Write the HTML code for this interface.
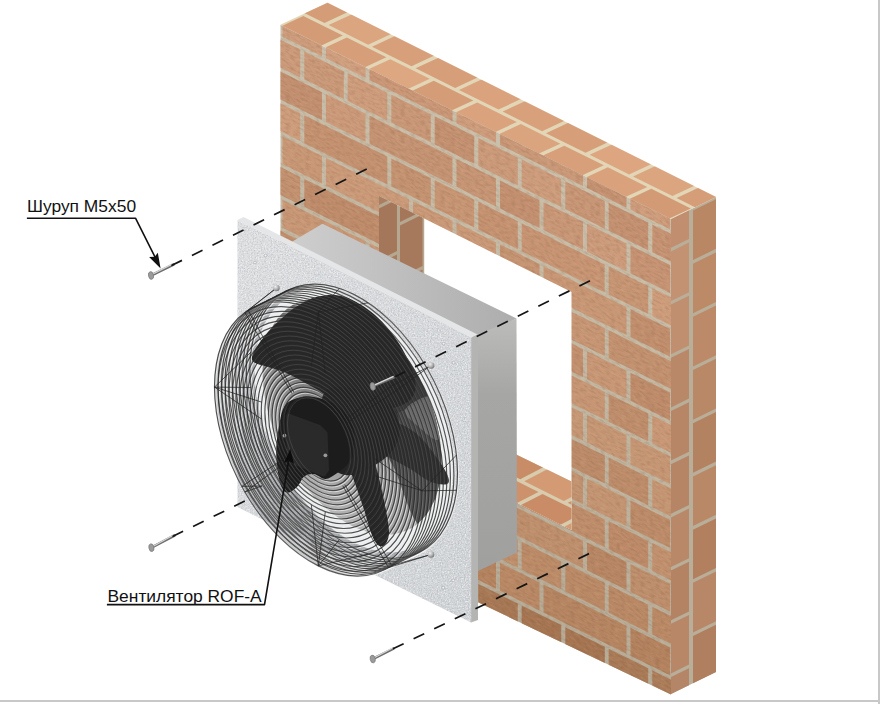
<!DOCTYPE html><html><head><meta charset="utf-8"><title>Монтаж вентилятора ROF-A</title>
<style>html,body{margin:0;padding:0;background:#fff}svg{display:block}text{font-family:"Liberation Sans",Arial,sans-serif;fill:#111}</style></head><body>
<svg width="882" height="704" viewBox="0 0 882 704">
<defs>
<clipPath id="cf"><polygon points="280.5,25.0 671.0,219.0 671.0,694.5 280.5,508.0"/></clipPath>
<clipPath id="ct"><polygon points="280.3,24.7 327.5,2.7 716.0,197.0 671.0,219.0"/></clipPath>
<clipPath id="ce"><polygon points="671.0,219.0 716.0,197.0 716.0,672.0 671.0,694.0"/></clipPath>
<clipPath id="cr"><polygon points="379.0,196.0 424.2,218.5 424.2,409.5 379.0,434.0"/></clipPath>
<clipPath id="cs"><polygon points="379.0,434.0 424.2,409.5 571.5,481.5 571.5,530.0"/></clipPath>
<linearGradient id="gtop" x1="0" y1="0" x2="1" y2="0"><stop offset="0" stop-color="#cfcfcf"/><stop offset="1" stop-color="#adadad"/></linearGradient>
<linearGradient id="gside" x1="0" y1="0" x2="0" y2="1"><stop offset="0" stop-color="#bcbcbb"/><stop offset="0.3" stop-color="#a6a6a4"/><stop offset="1" stop-color="#a0a09e"/></linearGradient>
<linearGradient id="gplate" x1="0" y1="0" x2="1" y2="1"><stop offset="0" stop-color="#dcdee0"/><stop offset="1" stop-color="#cfd2d5"/></linearGradient>
<linearGradient id="ginner" gradientUnits="userSpaceOnUse" x1="440" y1="360" x2="300" y2="530"><stop offset="0" stop-color="#484848"/><stop offset="0.45" stop-color="#7c7c7c"/><stop offset="0.75" stop-color="#a8a8a8"/><stop offset="1" stop-color="#cacaca"/></linearGradient>
<linearGradient id="gmortar" x1="0" y1="0" x2="0" y2="1"><stop offset="0" stop-color="#cbc0ab"/><stop offset="1" stop-color="#b6ab97"/></linearGradient>
<filter id="spk" x="0" y="0" width="100%" height="100%" color-interpolation-filters="sRGB"><feTurbulence type="fractalNoise" baseFrequency="0.75" numOctaves="2" seed="4" result="t"/><feColorMatrix in="t" type="matrix" values="0 0 0 0 1  0 0 0 0 1  0 0 0 0 1  2.2 0 0 0 -0.95"/></filter>
<filter id="spd" x="0" y="0" width="100%" height="100%" color-interpolation-filters="sRGB"><feTurbulence type="fractalNoise" baseFrequency="0.7" numOctaves="2" seed="9" result="t"/><feColorMatrix in="t" type="matrix" values="0 0 0 0 0.45  0 0 0 0 0.47  0 0 0 0 0.5  2.0 0 0 0 -0.95"/></filter>
<filter id="bn" x="0" y="0" width="100%" height="100%" color-interpolation-filters="sRGB"><feTurbulence type="fractalNoise" baseFrequency="0.2 0.45" numOctaves="2" seed="11" result="t"/><feColorMatrix in="t" type="matrix" values="0 0 0 0 0.42  0 0 0 0 0.25  0 0 0 0 0.15  2.4 0 0 0 -1.05"/></filter>
<filter id="bl" x="0" y="0" width="100%" height="100%" color-interpolation-filters="sRGB"><feTurbulence type="fractalNoise" baseFrequency="0.15 0.4" numOctaves="2" seed="23" result="t"/><feColorMatrix in="t" type="matrix" values="0 0 0 0 1  0 0 0 0 0.85  0 0 0 0 0.7  1.8 0 0 0 -0.85"/></filter>
<radialGradient id="gbolt" cx="0.35" cy="0.3" r="0.8"><stop offset="0" stop-color="#f2f2f2"/><stop offset="0.6" stop-color="#a8a8a8"/><stop offset="1" stop-color="#666"/></radialGradient>
<clipPath id="cp"><polygon points="237.5,220 471.25,337.5 471.25,622.5 237.5,507"/></clipPath>
</defs>
<rect width="882" height="704" fill="#fff"/>
<rect x="0" y="700" width="880" height="2" fill="#c8c8c8"/>
<rect x="878" y="0" width="2" height="704" fill="#c8c8c8"/>
<g clip-path="url(#ce)"><g transform="matrix(1,-0.489,0,1,671,219)">
<rect x="-2" y="-30" width="50" height="540" fill="#b9ae99"/>
<rect x="-1" y="-20.8" width="19" height="49.6" fill="#c18f6f"/>
<rect x="22" y="-51.0" width="25" height="49.6" fill="#bc8966"/>
<rect x="-1" y="32.4" width="19" height="49.6" fill="#c29272"/>
<rect x="22" y="2.2" width="25" height="49.6" fill="#ba8764"/>
<rect x="-1" y="85.6" width="19" height="49.6" fill="#c08f6f"/>
<rect x="22" y="55.4" width="25" height="49.6" fill="#bc8a67"/>
<rect x="-1" y="138.8" width="19" height="49.6" fill="#b98868"/>
<rect x="22" y="108.6" width="25" height="49.6" fill="#bc8a68"/>
<rect x="-1" y="192.0" width="19" height="49.6" fill="#b78667"/>
<rect x="22" y="161.8" width="25" height="49.6" fill="#b98866"/>
<rect x="-1" y="245.2" width="19" height="49.6" fill="#b68565"/>
<rect x="22" y="215.0" width="25" height="49.6" fill="#b38261"/>
<rect x="-1" y="298.4" width="19" height="49.6" fill="#b88869"/>
<rect x="22" y="268.2" width="25" height="49.6" fill="#b98967"/>
<rect x="-1" y="351.6" width="19" height="49.6" fill="#b38364"/>
<rect x="22" y="321.4" width="25" height="49.6" fill="#b2805f"/>
<rect x="-1" y="404.8" width="19" height="49.6" fill="#b78768"/>
<rect x="22" y="374.6" width="25" height="49.6" fill="#b78767"/>
<rect x="-1" y="458.0" width="19" height="49.6" fill="#b48566"/>
<rect x="22" y="427.8" width="25" height="49.6" fill="#af7f5f"/>
<rect x="-1" y="511.2" width="19" height="49.6" fill="#b88a6b"/>
<rect x="22" y="481.0" width="25" height="49.6" fill="#ab7a5a"/>
<rect x="-1" y="564.4" width="19" height="49.6" fill="#b7896a"/>
<rect x="22" y="534.2" width="25" height="49.6" fill="#ad7d5d"/>
</g></g>
<g clip-path="url(#ct)"><g transform="matrix(1,0.497,1,-0.466,280.3,24.7)">
<rect x="-5" y="-5" width="400" height="56" fill="#e3d6b6"/>
<rect x="-41.5" y="-2.0" width="39.5" height="23.0" fill="#d49c77"/>
<rect x="2.0" y="-2.0" width="39.5" height="23.0" fill="#d39b76"/>
<rect x="45.5" y="-2.0" width="39.5" height="23.0" fill="#d69e79"/>
<rect x="89.0" y="-2.0" width="39.5" height="23.0" fill="#dda782"/>
<rect x="132.5" y="-2.0" width="39.5" height="23.0" fill="#d49c77"/>
<rect x="176.0" y="-2.0" width="39.5" height="23.0" fill="#daa37e"/>
<rect x="219.5" y="-2.0" width="39.5" height="23.0" fill="#daa47f"/>
<rect x="263.0" y="-2.0" width="39.5" height="23.0" fill="#d79f7a"/>
<rect x="306.5" y="-2.0" width="39.5" height="23.0" fill="#d9a27d"/>
<rect x="350.0" y="-2.0" width="39.5" height="23.0" fill="#d29a75"/>
<rect x="393.5" y="-2.0" width="39.5" height="23.0" fill="#d29a75"/>
<rect x="-19.8" y="24.5" width="39.5" height="23.5" fill="#d49d78"/>
<rect x="23.8" y="24.5" width="39.5" height="23.5" fill="#dba580"/>
<rect x="67.2" y="24.5" width="39.5" height="23.5" fill="#d7a07b"/>
<rect x="110.8" y="24.5" width="39.5" height="23.5" fill="#d69e79"/>
<rect x="154.2" y="24.5" width="39.5" height="23.5" fill="#daa37e"/>
<rect x="197.8" y="24.5" width="39.5" height="23.5" fill="#d8a17c"/>
<rect x="241.2" y="24.5" width="39.5" height="23.5" fill="#d69e79"/>
<rect x="284.8" y="24.5" width="39.5" height="23.5" fill="#dda681"/>
<rect x="328.2" y="24.5" width="39.5" height="23.5" fill="#dba580"/>
<rect x="371.8" y="24.5" width="39.5" height="23.5" fill="#d59d78"/>
</g></g>
<g clip-path="url(#cf)"><g transform="matrix(1,0.497,0,1,280.5,25)">
<rect x="-2" y="-2" width="396" height="490" fill="url(#gmortar)"/>
<rect x="-41.5" y="-2.0" width="39.5" height="12.7" fill="#cb9a7a"/>
<rect x="2.0" y="-2.0" width="39.5" height="12.7" fill="#cd9d7d"/>
<rect x="45.5" y="-2.0" width="39.5" height="12.7" fill="#d0a080"/>
<rect x="89.0" y="-2.0" width="83.0" height="12.7" fill="#ca9878"/>
<rect x="176.0" y="-2.0" width="39.5" height="12.7" fill="#ce9d7d"/>
<rect x="219.5" y="-2.0" width="83.0" height="12.7" fill="#ca9979"/>
<rect x="306.5" y="-2.0" width="39.5" height="12.7" fill="#c59373"/>
<rect x="350.0" y="-2.0" width="39.5" height="12.7" fill="#ce9d7d"/>
<rect x="393.5" y="-2.0" width="39.5" height="12.7" fill="#cf9f7f"/>
<rect x="-19.8" y="14.7" width="39.5" height="27.8" fill="#cc9b7b"/>
<rect x="23.8" y="14.7" width="39.5" height="27.8" fill="#ca9a7a"/>
<rect x="67.2" y="14.7" width="39.5" height="27.8" fill="#ce9d7d"/>
<rect x="110.8" y="14.7" width="39.5" height="27.8" fill="#c99878"/>
<rect x="154.2" y="14.7" width="39.5" height="27.8" fill="#c49272"/>
<rect x="197.8" y="14.7" width="39.5" height="27.8" fill="#cb9b7b"/>
<rect x="241.2" y="14.7" width="39.5" height="27.8" fill="#cd9d7d"/>
<rect x="284.8" y="14.7" width="39.5" height="27.8" fill="#c89777"/>
<rect x="328.2" y="14.7" width="39.5" height="27.8" fill="#c49272"/>
<rect x="371.8" y="14.7" width="39.5" height="27.8" fill="#c69474"/>
<rect x="-41.5" y="46.5" width="83.0" height="27.9" fill="#c39171"/>
<rect x="45.5" y="46.5" width="39.5" height="27.9" fill="#cc9b7b"/>
<rect x="89.0" y="46.5" width="83.0" height="27.9" fill="#c59474"/>
<rect x="176.0" y="46.5" width="39.5" height="27.9" fill="#c79676"/>
<rect x="219.5" y="46.5" width="39.5" height="27.9" fill="#c39171"/>
<rect x="263.0" y="46.5" width="39.5" height="27.9" fill="#c99878"/>
<rect x="306.5" y="46.5" width="39.5" height="27.9" fill="#cc9c7c"/>
<rect x="350.0" y="46.5" width="39.5" height="27.9" fill="#c69474"/>
<rect x="393.5" y="46.5" width="39.5" height="27.9" fill="#c79575"/>
<rect x="-19.8" y="78.4" width="39.5" height="27.9" fill="#cd9d7c"/>
<rect x="23.8" y="78.4" width="83.0" height="27.9" fill="#c49271"/>
<rect x="110.8" y="78.4" width="39.5" height="27.9" fill="#c49372"/>
<rect x="154.2" y="78.4" width="39.5" height="27.9" fill="#c79675"/>
<rect x="197.8" y="78.4" width="39.5" height="27.9" fill="#c59372"/>
<rect x="241.2" y="78.4" width="83.0" height="27.9" fill="#c79574"/>
<rect x="328.2" y="78.4" width="39.5" height="27.9" fill="#c69574"/>
<rect x="371.8" y="78.4" width="39.5" height="27.9" fill="#cd9d7c"/>
<rect x="-41.5" y="110.3" width="39.5" height="27.8" fill="#c79675"/>
<rect x="2.0" y="110.3" width="39.5" height="27.8" fill="#c99877"/>
<rect x="45.5" y="110.3" width="83.0" height="27.8" fill="#cb9b7a"/>
<rect x="132.5" y="110.3" width="39.5" height="27.8" fill="#ca9a79"/>
<rect x="176.0" y="110.3" width="39.5" height="27.8" fill="#ca9a79"/>
<rect x="219.5" y="110.3" width="39.5" height="27.8" fill="#c59473"/>
<rect x="263.0" y="110.3" width="83.0" height="27.8" fill="#c89776"/>
<rect x="350.0" y="110.3" width="39.5" height="27.8" fill="#c18f6e"/>
<rect x="393.5" y="110.3" width="83.0" height="27.8" fill="#c39170"/>
<rect x="-19.8" y="142.1" width="39.5" height="27.8" fill="#c39271"/>
<rect x="23.8" y="142.1" width="83.0" height="27.8" fill="#bf8d6c"/>
<rect x="110.8" y="142.1" width="39.5" height="27.8" fill="#c08f6e"/>
<rect x="154.2" y="142.1" width="83.0" height="27.8" fill="#c39372"/>
<rect x="241.2" y="142.1" width="39.5" height="27.8" fill="#bf8e6d"/>
<rect x="284.8" y="142.1" width="39.5" height="27.8" fill="#c69675"/>
<rect x="328.2" y="142.1" width="83.0" height="27.8" fill="#c29170"/>
<rect x="-41.5" y="173.9" width="39.5" height="27.9" fill="#c29170"/>
<rect x="2.0" y="173.9" width="83.0" height="27.9" fill="#c89877"/>
<rect x="89.0" y="173.9" width="39.5" height="27.9" fill="#c99a79"/>
<rect x="132.5" y="173.9" width="39.5" height="27.9" fill="#c39271"/>
<rect x="176.0" y="173.9" width="83.0" height="27.9" fill="#bf8d6c"/>
<rect x="263.0" y="173.9" width="39.5" height="27.9" fill="#c2906f"/>
<rect x="306.5" y="173.9" width="39.5" height="27.9" fill="#c79776"/>
<rect x="350.0" y="173.9" width="39.5" height="27.9" fill="#be8c6b"/>
<rect x="393.5" y="173.9" width="39.5" height="27.9" fill="#c49372"/>
<rect x="-19.8" y="205.8" width="83.0" height="27.8" fill="#c39271"/>
<rect x="67.2" y="205.8" width="39.5" height="27.8" fill="#bd8b6a"/>
<rect x="110.8" y="205.8" width="39.5" height="27.8" fill="#c89877"/>
<rect x="154.2" y="205.8" width="39.5" height="27.8" fill="#c59473"/>
<rect x="197.8" y="205.8" width="39.5" height="27.8" fill="#c1906f"/>
<rect x="241.2" y="205.8" width="39.5" height="27.8" fill="#c69574"/>
<rect x="284.8" y="205.8" width="39.5" height="27.8" fill="#c69675"/>
<rect x="328.2" y="205.8" width="39.5" height="27.8" fill="#bf8e6d"/>
<rect x="371.8" y="205.8" width="39.5" height="27.8" fill="#c89877"/>
<rect x="-41.5" y="237.7" width="39.5" height="27.8" fill="#c49573"/>
<rect x="2.0" y="237.7" width="39.5" height="27.8" fill="#c39472"/>
<rect x="45.5" y="237.7" width="39.5" height="27.8" fill="#c1916f"/>
<rect x="89.0" y="237.7" width="39.5" height="27.8" fill="#bb8a68"/>
<rect x="132.5" y="237.7" width="83.0" height="27.8" fill="#be8d6b"/>
<rect x="219.5" y="237.7" width="39.5" height="27.8" fill="#be8d6b"/>
<rect x="263.0" y="237.7" width="39.5" height="27.8" fill="#c69775"/>
<rect x="306.5" y="237.7" width="39.5" height="27.8" fill="#c69775"/>
<rect x="350.0" y="237.7" width="39.5" height="27.8" fill="#c69775"/>
<rect x="393.5" y="237.7" width="39.5" height="27.8" fill="#bd8c6a"/>
<rect x="-19.8" y="269.5" width="39.5" height="27.9" fill="#bc8b69"/>
<rect x="23.8" y="269.5" width="39.5" height="27.9" fill="#c1916f"/>
<rect x="67.2" y="269.5" width="39.5" height="27.9" fill="#c49472"/>
<rect x="110.8" y="269.5" width="39.5" height="27.9" fill="#c19270"/>
<rect x="154.2" y="269.5" width="39.5" height="27.9" fill="#bb8a68"/>
<rect x="197.8" y="269.5" width="39.5" height="27.9" fill="#c49573"/>
<rect x="241.2" y="269.5" width="39.5" height="27.9" fill="#c39371"/>
<rect x="284.8" y="269.5" width="39.5" height="27.9" fill="#bc8b69"/>
<rect x="328.2" y="269.5" width="39.5" height="27.9" fill="#bd8d6b"/>
<rect x="371.8" y="269.5" width="39.5" height="27.9" fill="#c59674"/>
<rect x="-41.5" y="301.4" width="39.5" height="27.8" fill="#bd8d6b"/>
<rect x="2.0" y="301.4" width="39.5" height="27.8" fill="#c19270"/>
<rect x="45.5" y="301.4" width="39.5" height="27.8" fill="#ba8967"/>
<rect x="89.0" y="301.4" width="83.0" height="27.8" fill="#c39472"/>
<rect x="176.0" y="301.4" width="39.5" height="27.8" fill="#c29371"/>
<rect x="219.5" y="301.4" width="83.0" height="27.8" fill="#c29371"/>
<rect x="306.5" y="301.4" width="39.5" height="27.8" fill="#c49573"/>
<rect x="350.0" y="301.4" width="39.5" height="27.8" fill="#bd8c6a"/>
<rect x="393.5" y="301.4" width="39.5" height="27.8" fill="#ba8967"/>
<rect x="-19.8" y="333.2" width="83.0" height="27.9" fill="#c39371"/>
<rect x="67.2" y="333.2" width="39.5" height="27.9" fill="#bf8f6d"/>
<rect x="110.8" y="333.2" width="39.5" height="27.9" fill="#c39371"/>
<rect x="154.2" y="333.2" width="39.5" height="27.9" fill="#c29270"/>
<rect x="197.8" y="333.2" width="39.5" height="27.9" fill="#ba8866"/>
<rect x="241.2" y="333.2" width="39.5" height="27.9" fill="#bb8a68"/>
<rect x="284.8" y="333.2" width="39.5" height="27.9" fill="#bf8e6c"/>
<rect x="328.2" y="333.2" width="39.5" height="27.9" fill="#bd8b69"/>
<rect x="371.8" y="333.2" width="83.0" height="27.9" fill="#c29270"/>
<rect x="-41.5" y="365.1" width="39.5" height="27.9" fill="#bb8b69"/>
<rect x="2.0" y="365.1" width="39.5" height="27.9" fill="#c0916f"/>
<rect x="45.5" y="365.1" width="39.5" height="27.9" fill="#c19270"/>
<rect x="89.0" y="365.1" width="39.5" height="27.9" fill="#bc8c6a"/>
<rect x="132.5" y="365.1" width="39.5" height="27.9" fill="#b68563"/>
<rect x="176.0" y="365.1" width="39.5" height="27.9" fill="#b88765"/>
<rect x="219.5" y="365.1" width="83.0" height="27.9" fill="#bf906e"/>
<rect x="306.5" y="365.1" width="39.5" height="27.9" fill="#b88765"/>
<rect x="350.0" y="365.1" width="39.5" height="27.9" fill="#be8f6d"/>
<rect x="393.5" y="365.1" width="39.5" height="27.9" fill="#b98967"/>
<rect x="-19.8" y="396.9" width="39.5" height="27.8" fill="#bb8b68"/>
<rect x="23.8" y="396.9" width="39.5" height="27.8" fill="#b68562"/>
<rect x="67.2" y="396.9" width="39.5" height="27.8" fill="#b78764"/>
<rect x="110.8" y="396.9" width="39.5" height="27.8" fill="#be8e6b"/>
<rect x="154.2" y="396.9" width="39.5" height="27.8" fill="#bb8b68"/>
<rect x="197.8" y="396.9" width="39.5" height="27.8" fill="#bf906d"/>
<rect x="241.2" y="396.9" width="39.5" height="27.8" fill="#bc8c69"/>
<rect x="284.8" y="396.9" width="39.5" height="27.8" fill="#bb8b68"/>
<rect x="328.2" y="396.9" width="39.5" height="27.8" fill="#ba8a67"/>
<rect x="371.8" y="396.9" width="39.5" height="27.8" fill="#ba8a67"/>
<rect x="-41.5" y="428.8" width="39.5" height="27.9" fill="#bc8c69"/>
<rect x="2.0" y="428.8" width="39.5" height="27.9" fill="#bf906d"/>
<rect x="45.5" y="428.8" width="39.5" height="27.9" fill="#ba8a67"/>
<rect x="89.0" y="428.8" width="39.5" height="27.9" fill="#be8e6b"/>
<rect x="132.5" y="428.8" width="83.0" height="27.9" fill="#b58461"/>
<rect x="219.5" y="428.8" width="39.5" height="27.9" fill="#b98966"/>
<rect x="263.0" y="428.8" width="83.0" height="27.9" fill="#b68663"/>
<rect x="350.0" y="428.8" width="39.5" height="27.9" fill="#b48360"/>
<rect x="393.5" y="428.8" width="39.5" height="27.9" fill="#bd8e6b"/>
<rect x="-19.8" y="460.6" width="39.5" height="27.8" fill="#ab7d5a"/>
<rect x="23.8" y="460.6" width="39.5" height="27.8" fill="#ad7e5b"/>
<rect x="67.2" y="460.6" width="39.5" height="27.8" fill="#ad7f5c"/>
<rect x="110.8" y="460.6" width="39.5" height="27.8" fill="#ad7f5c"/>
<rect x="154.2" y="460.6" width="39.5" height="27.8" fill="#a97a57"/>
<rect x="197.8" y="460.6" width="39.5" height="27.8" fill="#a77855"/>
<rect x="241.2" y="460.6" width="39.5" height="27.8" fill="#a67653"/>
<rect x="284.8" y="460.6" width="39.5" height="27.8" fill="#a67653"/>
<rect x="328.2" y="460.6" width="39.5" height="27.8" fill="#aa7b58"/>
<rect x="371.8" y="460.6" width="83.0" height="27.8" fill="#ac7d5a"/>
<rect x="-2" y="-2" width="396" height="490" filter="url(#bn)" opacity="0.18"/>
<rect x="-2" y="-2" width="396" height="490" filter="url(#bl)" opacity="0.16"/>
</g></g>
<polygon points="379.0,196.0 571.5,292.0 571.5,530.0 379.0,434.0" fill="#fff"/>
<g clip-path="url(#cr)"><g transform="matrix(1,-0.495,0,1,379,196)">
<rect x="-2" y="-10" width="50" height="300" fill="#b5a790"/>
<rect x="-1" y="-42.5" width="19" height="51.5" fill="#a97e61"/>
<rect x="21" y="-70.0" width="22.5" height="51.5" fill="#a5785b"/>
<rect x="-1" y="12.5" width="19" height="51.5" fill="#a4775a"/>
<rect x="21" y="-15.0" width="22.5" height="51.5" fill="#a5775a"/>
<rect x="-1" y="67.5" width="19" height="51.5" fill="#a87c5f"/>
<rect x="21" y="40.0" width="22.5" height="51.5" fill="#a7795c"/>
<rect x="-1" y="122.5" width="19" height="51.5" fill="#a37659"/>
<rect x="21" y="95.0" width="22.5" height="51.5" fill="#a87b5e"/>
<rect x="-1" y="177.5" width="19" height="51.5" fill="#a97d60"/>
<rect x="21" y="150.0" width="22.5" height="51.5" fill="#ab7f62"/>
<rect x="-1" y="232.5" width="19" height="51.5" fill="#a4775a"/>
<rect x="21" y="205.0" width="22.5" height="51.5" fill="#a6785b"/>
<rect x="-1" y="287.5" width="19" height="51.5" fill="#a97e61"/>
<rect x="21" y="260.0" width="22.5" height="51.5" fill="#a97c5f"/>
</g></g>
<g clip-path="url(#cs)"><g transform="matrix(1,0.497,1,-0.52,379,434)">
<rect x="-60" y="-5" width="300" height="60" fill="#d9ccae"/>
<rect x="-75.0" y="-2.0" width="39.5" height="23.0" fill="#d19771"/>
<rect x="-31.5" y="-2.0" width="39.5" height="23.0" fill="#c98d67"/>
<rect x="12.0" y="-2.0" width="39.5" height="23.0" fill="#c88c66"/>
<rect x="55.5" y="-2.0" width="39.5" height="23.0" fill="#d19771"/>
<rect x="99.0" y="-2.0" width="39.5" height="23.0" fill="#cd926c"/>
<rect x="142.5" y="-2.0" width="39.5" height="23.0" fill="#c98c66"/>
<rect x="186.0" y="-2.0" width="39.5" height="23.0" fill="#d59b75"/>
<rect x="229.5" y="-2.0" width="39.5" height="23.0" fill="#d09670"/>
<rect x="-53.2" y="24.5" width="39.5" height="25.5" fill="#d39973"/>
<rect x="-9.8" y="24.5" width="39.5" height="25.5" fill="#c98d67"/>
<rect x="33.8" y="24.5" width="39.5" height="25.5" fill="#d39973"/>
<rect x="77.2" y="24.5" width="39.5" height="25.5" fill="#c88c66"/>
<rect x="120.8" y="24.5" width="39.5" height="25.5" fill="#d49a74"/>
<rect x="164.2" y="24.5" width="39.5" height="25.5" fill="#ce936d"/>
<rect x="207.8" y="24.5" width="39.5" height="25.5" fill="#cc916b"/>
<rect x="251.2" y="24.5" width="39.5" height="25.5" fill="#cf946e"/>
</g></g>
<polygon points="284.0,246.5 322.5,223.8 516.5,318.5 476.0,339.0" fill="url(#gtop)"/>
<polygon points="476.0,335.0 516.5,318.5 517.0,552.5 476.0,572.0" fill="url(#gside)"/>
<polygon points="471.0,337.5 478.0,334.5 478.0,620.0 471.0,622.5" fill="#b4b4b2"/>
<polygon points="237.5,220.0 243.5,217.0 477.5,334.5 471.2,337.5" fill="#e4e6e7"/>
<polygon points="237.5,220.0 471.2,337.5 471.2,622.5 237.5,507.0" fill="url(#gplate)"/>
<g clip-path="url(#cp)"><rect x="237" y="219" width="236" height="405" filter="url(#spk)" opacity="0.7"/><rect x="237" y="219" width="236" height="405" filter="url(#spd)" opacity="0.35"/></g>
<circle cx="255.0" cy="262.5" r="1.4" fill="#f3f3f3" stroke="#a9abad" stroke-width="0.7"/>
<circle cx="265.5" cy="255.5" r="1.4" fill="#f3f3f3" stroke="#a9abad" stroke-width="0.7"/>
<circle cx="443.6" cy="343.6" r="1.4" fill="#f3f3f3" stroke="#a9abad" stroke-width="0.7"/>
<circle cx="453.6" cy="362.7" r="1.4" fill="#f3f3f3" stroke="#a9abad" stroke-width="0.7"/>
<circle cx="443.2" cy="587.8" r="1.4" fill="#f3f3f3" stroke="#a9abad" stroke-width="0.7"/>
<circle cx="453.3" cy="580.4" r="1.4" fill="#f3f3f3" stroke="#a9abad" stroke-width="0.7"/>
<clipPath id="chole"><polygon points="441.5,461.2 441.3,468.3 440.7,475.1 439.8,481.7 438.4,488.0 436.7,494.0 434.7,499.7 432.2,505.0 429.5,509.9 426.4,514.5 423.0,518.6 419.3,522.3 415.3,525.5 411.0,528.2 406.5,530.5 401.7,532.3 396.7,533.6 391.6,534.4 386.2,534.7 380.8,534.5 375.2,533.7 369.5,532.5 363.7,530.8 357.9,528.6 352.0,525.9 346.1,522.7 340.3,519.1 334.5,515.1 328.8,510.6 323.2,505.7 317.8,500.4 312.4,494.8 307.3,488.9 302.3,482.6 297.5,476.0 293.0,469.2 288.7,462.2 284.7,455.0 281.0,447.6 277.6,440.1 274.5,432.4 271.8,424.8 269.3,417.0 267.3,409.3 265.6,401.6 264.2,394.0 263.3,386.4 262.7,379.0 262.5,371.8 262.7,364.7 263.3,357.9 264.2,351.3 265.6,345.0 267.3,339.0 269.3,333.3 271.8,328.0 274.5,323.1 277.6,318.5 281.0,314.4 284.7,310.7 288.7,307.5 293.0,304.8 297.5,302.5 302.3,300.7 307.3,299.4 312.4,298.6 317.8,298.3 323.2,298.5 328.8,299.3 334.5,300.5 340.3,302.2 346.1,304.4 352.0,307.1 357.9,310.3 363.7,313.9 369.5,317.9 375.2,322.4 380.8,327.3 386.2,332.6 391.6,338.2 396.7,344.1 401.7,350.4 406.5,357.0 411.0,363.8 415.3,370.8 419.3,378.0 423.0,385.4 426.4,392.9 429.5,400.6 432.2,408.2 434.7,416.0 436.7,423.7 438.4,431.4 439.8,439.0 440.7,446.6 441.3,454.0"/></clipPath>
<polygon points="422.1,490.8 421.9,499.0 421.2,507.0 420.1,514.6 418.6,521.9 416.6,528.9 414.2,535.5 411.4,541.6 408.2,547.3 404.6,552.6 400.7,557.4 396.3,561.6 391.7,565.4 386.7,568.6 381.5,571.2 376.0,573.3 370.2,574.8 364.2,575.7 358.0,576.1 351.7,575.8 345.2,575.0 338.6,573.5 331.8,571.5 325.1,569.0 318.3,565.9 311.5,562.2 304.8,558.0 298.0,553.3 291.4,548.1 284.9,542.4 278.6,536.3 272.4,529.8 266.4,522.9 260.6,515.6 255.1,508.0 249.9,500.1 244.9,492.0 240.3,483.6 235.9,475.0 232.0,466.3 228.4,457.5 225.2,448.5 222.4,439.6 220.0,430.6 218.0,421.7 216.5,412.8 215.4,404.1 214.7,395.5 214.5,387.1 214.7,378.9 215.4,370.9 216.5,363.3 218.0,356.0 220.0,349.0 222.4,342.4 225.2,336.3 228.4,330.6 232.0,325.3 235.9,320.5 240.3,316.3 244.9,312.5 249.9,309.3 255.1,306.7 260.6,304.6 266.4,303.1 272.4,302.2 278.6,301.8 284.9,302.1 291.4,302.9 298.0,304.4 304.8,306.4 311.5,308.9 318.3,312.0 325.1,315.7 331.8,319.9 338.6,324.6 345.2,329.8 351.7,335.5 358.0,341.6 364.2,348.1 370.2,355.0 376.0,362.3 381.5,369.9 386.7,377.8 391.7,385.9 396.3,394.3 400.7,402.9 404.6,411.6 408.2,420.4 411.4,429.4 414.2,438.3 416.6,447.3 418.6,456.2 420.1,465.1 421.2,473.8 421.9,482.4" fill="#6f7276" fill-opacity="0.36"/>
<polygon points="439.8,482.0 439.6,490.2 438.9,498.1 437.8,505.8 436.3,513.1 434.3,520.0 431.9,526.6 429.1,532.8 425.9,538.5 422.3,543.8 418.4,548.5 414.0,552.8 409.4,556.5 404.4,559.7 399.2,562.4 393.7,564.4 387.9,565.9 381.9,566.9 375.7,567.2 369.4,566.9 362.9,566.1 356.3,564.7 349.5,562.7 342.8,560.1 336.0,557.0 329.2,553.3 322.5,549.1 315.7,544.4 309.1,539.2 302.6,533.6 296.3,527.5 290.1,521.0 284.1,514.0 278.3,506.8 272.8,499.2 267.6,491.3 262.6,483.1 258.0,474.8 253.6,466.2 249.7,457.4 246.1,448.6 242.9,439.7 240.1,430.7 237.7,421.7 235.7,412.8 234.2,404.0 233.1,395.2 232.4,386.6 232.2,378.2 232.4,370.0 233.1,362.1 234.2,354.4 235.7,347.1 237.7,340.2 240.1,333.6 242.9,327.4 246.1,321.7 249.7,316.4 253.6,311.7 258.0,307.4 262.6,303.7 267.6,300.5 272.8,297.8 278.3,295.8 284.1,294.3 290.1,293.3 296.3,293.0 302.6,293.3 309.1,294.1 315.7,295.5 322.5,297.5 329.2,300.1 336.0,303.2 342.8,306.9 349.5,311.1 356.3,315.8 362.9,321.0 369.4,326.6 375.7,332.7 381.9,339.2 387.9,346.2 393.7,353.4 399.2,361.0 404.4,368.9 409.4,377.1 414.0,385.4 418.4,394.0 422.3,402.8 425.9,411.6 429.1,420.5 431.9,429.5 434.3,438.5 436.3,447.4 437.8,456.2 438.9,465.0 439.6,473.6" fill="#6f7276" fill-opacity="0.12"/>
<polygon points="452.8,470.8 452.6,478.6 452.0,486.2 450.9,493.5 449.5,500.5 447.6,507.1 445.3,513.4 442.6,519.3 439.5,524.8 436.1,529.8 432.3,534.3 428.2,538.4 423.8,542.0 419.1,545.0 414.0,547.6 408.8,549.6 403.3,551.0 397.5,551.9 391.6,552.2 385.6,551.9 379.4,551.1 373.0,549.8 366.6,547.9 360.2,545.4 353.7,542.4 347.2,538.9 340.8,534.9 334.4,530.4 328.0,525.5 321.8,520.1 315.8,514.2 309.9,508.0 304.1,501.4 298.6,494.5 293.4,487.2 288.3,479.7 283.6,471.9 279.2,463.9 275.1,455.7 271.3,447.4 267.9,438.9 264.8,430.4 262.1,421.8 259.8,413.3 257.9,404.7 256.5,396.3 255.4,387.9 254.8,379.7 254.6,371.7 254.8,363.9 255.4,356.3 256.5,349.0 257.9,342.0 259.8,335.4 262.1,329.1 264.8,323.2 267.9,317.7 271.3,312.7 275.1,308.2 279.2,304.1 283.6,300.5 288.3,297.5 293.4,294.9 298.6,292.9 304.1,291.5 309.9,290.6 315.8,290.3 321.8,290.6 328.0,291.4 334.4,292.7 340.8,294.6 347.2,297.1 353.7,300.1 360.2,303.6 366.6,307.6 373.0,312.1 379.4,317.0 385.6,322.4 391.6,328.3 397.5,334.5 403.3,341.1 408.8,348.0 414.0,355.3 419.1,362.8 423.8,370.6 428.2,378.6 432.3,386.8 436.1,395.1 439.5,403.6 442.6,412.1 445.3,420.7 447.6,429.2 449.5,437.8 450.9,446.2 452.0,454.6 452.6,462.8" fill="#eceeef"/>
<polygon points="441.5,461.2 441.3,468.3 440.7,475.1 439.8,481.7 438.4,488.0 436.7,494.0 434.7,499.7 432.2,505.0 429.5,509.9 426.4,514.5 423.0,518.6 419.3,522.3 415.3,525.5 411.0,528.2 406.5,530.5 401.7,532.3 396.7,533.6 391.6,534.4 386.2,534.7 380.8,534.5 375.2,533.7 369.5,532.5 363.7,530.8 357.9,528.6 352.0,525.9 346.1,522.7 340.3,519.1 334.5,515.1 328.8,510.6 323.2,505.7 317.8,500.4 312.4,494.8 307.3,488.9 302.3,482.6 297.5,476.0 293.0,469.2 288.7,462.2 284.7,455.0 281.0,447.6 277.6,440.1 274.5,432.4 271.8,424.8 269.3,417.0 267.3,409.3 265.6,401.6 264.2,394.0 263.3,386.4 262.7,379.0 262.5,371.8 262.7,364.7 263.3,357.9 264.2,351.3 265.6,345.0 267.3,339.0 269.3,333.3 271.8,328.0 274.5,323.1 277.6,318.5 281.0,314.4 284.7,310.7 288.7,307.5 293.0,304.8 297.5,302.5 302.3,300.7 307.3,299.4 312.4,298.6 317.8,298.3 323.2,298.5 328.8,299.3 334.5,300.5 340.3,302.2 346.1,304.4 352.0,307.1 357.9,310.3 363.7,313.9 369.5,317.9 375.2,322.4 380.8,327.3 386.2,332.6 391.6,338.2 396.7,344.1 401.7,350.4 406.5,357.0 411.0,363.8 415.3,370.8 419.3,378.0 423.0,385.4 426.4,392.9 429.5,400.6 432.2,408.2 434.7,416.0 436.7,423.7 438.4,431.4 439.8,439.0 440.7,446.6 441.3,454.0" fill="url(#ginner)"/>
<g fill="none" stroke="#f6f6f6" stroke-width="1.4" stroke-opacity="0.6">
<circle r="1" transform="matrix(103.80,51.90,0,126.90,354.60,422.15)" vector-effect="non-scaling-stroke"/>
<circle r="1" transform="matrix(103.80,51.90,0,126.90,351.06,423.92)" vector-effect="non-scaling-stroke"/>
<circle r="1" transform="matrix(103.80,51.90,0,126.90,347.52,425.69)" vector-effect="non-scaling-stroke"/>
<circle r="1" transform="matrix(103.80,51.90,0,126.90,343.98,427.46)" vector-effect="non-scaling-stroke"/>
<circle r="1" transform="matrix(103.80,51.90,0,126.90,340.44,429.23)" vector-effect="non-scaling-stroke"/>
<circle r="1" transform="matrix(103.80,51.90,0,126.90,336.90,431.00)" vector-effect="non-scaling-stroke"/>
<circle r="1" transform="matrix(103.80,51.90,0,126.90,333.36,432.77)" vector-effect="non-scaling-stroke"/>
<circle r="1" transform="matrix(103.80,51.90,0,126.90,329.82,434.54)" vector-effect="non-scaling-stroke"/>
<circle r="1" transform="matrix(103.80,51.90,0,126.90,326.28,436.31)" vector-effect="non-scaling-stroke"/>
<circle r="1" transform="matrix(103.80,51.90,0,126.90,322.74,438.08)" vector-effect="non-scaling-stroke"/>
<circle r="1" transform="matrix(103.80,51.90,0,126.90,319.20,439.85)" vector-effect="non-scaling-stroke"/>
<circle r="1" transform="matrix(100.20,50.10,0,122.50,319.20,439.85)" vector-effect="non-scaling-stroke"/>
<circle r="1" transform="matrix(96.60,48.30,0,118.10,319.20,439.85)" vector-effect="non-scaling-stroke"/>
<circle r="1" transform="matrix(93.00,46.50,0,113.70,319.20,439.85)" vector-effect="non-scaling-stroke"/>
<circle r="1" transform="matrix(89.40,44.70,0,109.30,319.20,439.85)" vector-effect="non-scaling-stroke"/>
<circle r="1" transform="matrix(85.80,42.90,0,104.89,319.20,439.85)" vector-effect="non-scaling-stroke"/>
<circle r="1" transform="matrix(82.20,41.10,0,100.49,319.20,439.85)" vector-effect="non-scaling-stroke"/>
<circle r="1" transform="matrix(78.60,39.30,0,96.09,319.20,439.85)" vector-effect="non-scaling-stroke"/>
<circle r="1" transform="matrix(75.00,37.50,0,91.69,319.20,439.85)" vector-effect="non-scaling-stroke"/>
<circle r="1" transform="matrix(71.40,35.70,0,87.29,319.20,439.85)" vector-effect="non-scaling-stroke"/>
<circle r="1" transform="matrix(67.80,33.90,0,82.89,319.20,439.85)" vector-effect="non-scaling-stroke"/>
<circle r="1" transform="matrix(64.20,32.10,0,78.49,319.20,439.85)" vector-effect="non-scaling-stroke"/>
<circle r="1" transform="matrix(60.60,30.30,0,74.09,319.20,439.85)" vector-effect="non-scaling-stroke"/>
<circle r="1" transform="matrix(57.00,28.50,0,69.68,319.20,439.85)" vector-effect="non-scaling-stroke"/>
<circle r="1" transform="matrix(53.40,26.70,0,65.28,319.20,439.85)" vector-effect="non-scaling-stroke"/>
<circle r="1" transform="matrix(49.80,24.90,0,60.88,319.20,439.85)" vector-effect="non-scaling-stroke"/>
<circle r="1" transform="matrix(46.20,23.10,0,56.48,319.20,439.85)" vector-effect="non-scaling-stroke"/>
<circle r="1" transform="matrix(42.60,21.30,0,52.08,319.20,439.85)" vector-effect="non-scaling-stroke"/>
<circle r="1" transform="matrix(39.00,19.50,0,47.68,319.20,439.85)" vector-effect="non-scaling-stroke"/>
<circle r="1" transform="matrix(35.40,17.70,0,43.28,319.20,439.85)" vector-effect="non-scaling-stroke"/>
<circle r="1" transform="matrix(31.80,15.90,0,38.88,319.20,439.85)" vector-effect="non-scaling-stroke"/>
</g>
<g clip-path="url(#chole)">
<path d="M335.0,295.0 C340.0,278.3 365.8,294.2 380.0,300.0 C394.2,305.8 408.3,317.5 420.0,330.0 C431.7,342.5 444.7,363.3 450.0,375.0 C455.3,386.7 454.2,397.2 452.0,400.0 C449.8,402.8 442.3,391.7 437.0,392.0 C431.7,392.3 426.2,398.7 420.0,402.0 C413.8,405.3 407.5,409.0 400.0,412.0 C392.5,415.0 383.3,422.0 375.0,420.0 C366.7,418.0 356.7,420.8 350.0,400.0 C343.3,379.2 330.0,311.7 335.0,295.0Z" fill="#353535"/>
<path d="M385.0,400.0 C395.0,389.2 426.7,368.3 440.0,375.0 C453.3,381.7 462.0,418.3 465.0,440.0 C468.0,461.7 462.2,488.3 458.0,505.0 C453.8,521.7 447.2,537.5 440.0,540.0 C432.8,542.5 422.5,531.7 415.0,520.0 C407.5,508.3 400.8,483.3 395.0,470.0 C389.2,456.7 381.7,451.7 380.0,440.0 C378.3,428.3 375.0,410.8 385.0,400.0Z" fill="#3c3c3c" fill-opacity="0.78"/>
<path d="M405.0,410.0 C407.0,404.7 426.0,394.3 432.0,396.0 C438.0,397.7 440.0,412.7 441.0,420.0 C442.0,427.3 441.5,438.7 438.0,440.0 C434.5,441.3 425.5,433.0 420.0,428.0 C414.5,423.0 403.0,415.3 405.0,410.0Z" fill="#8a8a8a" fill-opacity="0.55"/>
</g>
<path d="M251.8,358.2 C251.8,355.5 253.8,351.6 256.4,347.3 C259.0,343.1 263.1,337.6 267.3,332.7 C271.5,327.8 276.7,322.7 281.8,318.2 C286.9,313.7 292.1,309.1 298.2,305.5 C304.3,301.9 310.4,297.9 318.2,296.5 C326.0,295.1 335.5,293.9 345.0,297.0 C354.5,300.1 365.8,307.0 375.0,315.0 C384.2,323.0 393.3,334.2 400.0,345.0 C406.7,355.8 413.3,370.8 415.0,380.0 C416.7,389.2 415.0,395.0 410.0,400.0 C405.0,405.0 394.2,408.0 385.0,410.0 C375.8,412.0 364.0,414.0 355.0,412.0 C346.0,410.0 337.3,401.8 330.9,398.0 C324.5,394.2 321.5,392.1 316.4,389.1 C311.2,386.1 305.1,382.7 300.0,380.0 C294.9,377.3 290.6,374.8 285.5,372.7 C280.4,370.6 274.0,368.8 269.1,367.3 C264.2,365.8 259.3,365.1 256.4,363.6 C253.5,362.1 251.8,360.9 251.8,358.2Z" fill="#272727"/>
<path d="M349.8,416.0 C356.0,412.7 378.6,417.7 389.4,420.4 C400.2,423.1 407.3,426.7 414.5,432.0 C421.7,437.3 427.3,445.0 432.7,452.0 C438.1,459.0 444.6,468.7 447.0,474.0 C449.4,479.3 449.8,482.8 447.0,484.0 C444.2,485.2 436.6,484.3 430.0,481.5 C423.4,478.7 415.6,472.1 407.3,467.3 C399.0,462.5 389.2,457.2 380.0,452.7 C370.8,448.1 357.0,446.1 352.0,440.0 C347.0,433.9 343.6,419.3 349.8,416.0Z" fill="#2e2e2e"/>
<path d="M343.0,452.0 C346.2,448.2 363.3,444.0 369.0,447.0 C374.7,450.0 374.4,460.7 377.0,470.0 C379.6,479.3 382.5,492.2 384.5,502.7 C386.5,513.1 389.2,525.5 389.0,532.7 C388.8,539.9 385.6,545.0 383.0,546.0 C380.4,547.0 377.0,545.8 373.6,539.0 C370.2,532.2 366.6,517.0 362.7,505.5 C358.8,494.0 353.3,478.9 350.0,470.0 C346.7,461.1 339.8,455.8 343.0,452.0Z" fill="#262626"/>
<path d="M325.0,392.0 C332.5,382.3 353.3,389.0 365.0,392.0 C376.7,395.0 389.5,402.0 395.0,410.0 C400.5,418.0 400.5,431.3 398.0,440.0 C395.5,448.7 388.8,456.2 380.0,462.0 C371.2,467.8 355.0,477.0 345.0,475.0 C335.0,473.0 323.3,463.8 320.0,450.0 C316.7,436.2 317.5,401.7 325.0,392.0Z" fill="#242424"/>
<path d="M282.9,409.5 C284.9,405.0 286.6,402.7 291.0,400.5 C295.4,398.3 302.7,396.3 309.0,396.4 C315.3,396.5 322.6,398.6 328.6,401.3 C334.6,404.0 340.9,408.4 345.0,412.8 C349.1,417.2 351.6,421.2 353.1,427.5 C354.6,433.8 354.8,444.4 354.0,450.4 C353.2,456.4 351.1,459.6 348.2,463.4 C345.3,467.2 340.6,470.6 336.8,473.2 C333.0,475.8 329.2,478.9 325.4,479.0 C321.6,479.1 317.4,474.5 313.9,474.1 C310.3,473.7 306.8,474.5 304.1,476.5 C301.4,478.5 300.3,483.6 297.6,486.3 C294.9,489.0 290.5,492.8 287.8,492.8 C285.1,492.8 283.0,490.7 281.2,486.3 C279.4,481.9 278.0,473.2 277.2,466.7 C276.4,460.2 276.0,453.6 276.3,447.1 C276.6,440.6 277.7,433.8 278.8,427.5 C279.9,421.2 280.9,414.0 282.9,409.5Z" fill="#1c1c1c"/>
<polygon points="288.0,415.0 319.5,426.5 326.0,433.0 327.5,470.0 324.0,475.0 313.9,471.0 292.0,462.0 288.5,455.0" fill="#2a2a2a" stroke="#2a2a2a" stroke-width="3" stroke-linejoin="round"/>
<circle cx="284.5" cy="435.7" r="1.9" fill="#9a9a9a"/><circle cx="325.4" cy="455.3" r="1.9" fill="#9a9a9a"/>
<g fill="none" stroke="#2b2b2b" stroke-width="1.2" stroke-opacity="0.82">
<circle r="1" transform="matrix(103.80,51.90,0,126.90,353.70,421.25)" vector-effect="non-scaling-stroke"/>
<circle r="1" transform="matrix(103.80,51.90,0,126.90,350.16,423.02)" vector-effect="non-scaling-stroke"/>
<circle r="1" transform="matrix(103.80,51.90,0,126.90,346.62,424.79)" vector-effect="non-scaling-stroke"/>
<circle r="1" transform="matrix(103.80,51.90,0,126.90,343.08,426.56)" vector-effect="non-scaling-stroke"/>
<circle r="1" transform="matrix(103.80,51.90,0,126.90,339.54,428.33)" vector-effect="non-scaling-stroke"/>
<circle r="1" transform="matrix(103.80,51.90,0,126.90,336.00,430.10)" vector-effect="non-scaling-stroke"/>
<circle r="1" transform="matrix(103.80,51.90,0,126.90,332.46,431.87)" vector-effect="non-scaling-stroke"/>
<circle r="1" transform="matrix(103.80,51.90,0,126.90,328.92,433.64)" vector-effect="non-scaling-stroke"/>
<circle r="1" transform="matrix(103.80,51.90,0,126.90,325.38,435.41)" vector-effect="non-scaling-stroke"/>
<circle r="1" transform="matrix(103.80,51.90,0,126.90,321.84,437.18)" vector-effect="non-scaling-stroke"/>
<circle r="1" transform="matrix(103.80,51.90,0,126.90,318.30,438.95)" vector-effect="non-scaling-stroke"/>
<circle r="1" transform="matrix(100.20,50.10,0,122.50,318.30,438.95)" vector-effect="non-scaling-stroke"/>
<circle r="1" transform="matrix(96.60,48.30,0,118.10,318.30,438.95)" vector-effect="non-scaling-stroke"/>
<circle r="1" transform="matrix(93.00,46.50,0,113.70,318.30,438.95)" vector-effect="non-scaling-stroke"/>
<circle r="1" transform="matrix(89.40,44.70,0,109.30,318.30,438.95)" vector-effect="non-scaling-stroke"/>
<circle r="1" transform="matrix(85.80,42.90,0,104.89,318.30,438.95)" vector-effect="non-scaling-stroke"/>
<circle r="1" transform="matrix(82.20,41.10,0,100.49,318.30,438.95)" vector-effect="non-scaling-stroke"/>
<circle r="1" transform="matrix(78.60,39.30,0,96.09,318.30,438.95)" vector-effect="non-scaling-stroke"/>
<circle r="1" transform="matrix(75.00,37.50,0,91.69,318.30,438.95)" vector-effect="non-scaling-stroke"/>
<circle r="1" transform="matrix(71.40,35.70,0,87.29,318.30,438.95)" vector-effect="non-scaling-stroke"/>
<circle r="1" transform="matrix(67.80,33.90,0,82.89,318.30,438.95)" vector-effect="non-scaling-stroke"/>
<circle r="1" transform="matrix(64.20,32.10,0,78.49,318.30,438.95)" vector-effect="non-scaling-stroke"/>
<circle r="1" transform="matrix(60.60,30.30,0,74.09,318.30,438.95)" vector-effect="non-scaling-stroke"/>
<circle r="1" transform="matrix(57.00,28.50,0,69.68,318.30,438.95)" vector-effect="non-scaling-stroke"/>
<circle r="1" transform="matrix(53.40,26.70,0,65.28,318.30,438.95)" vector-effect="non-scaling-stroke"/>
<circle r="1" transform="matrix(49.80,24.90,0,60.88,318.30,438.95)" vector-effect="non-scaling-stroke"/>
<circle r="1" transform="matrix(46.20,23.10,0,56.48,318.30,438.95)" vector-effect="non-scaling-stroke"/>
<circle r="1" transform="matrix(42.60,21.30,0,52.08,318.30,438.95)" vector-effect="non-scaling-stroke"/>
<circle r="1" transform="matrix(39.00,19.50,0,47.68,318.30,438.95)" vector-effect="non-scaling-stroke"/>
<circle r="1" transform="matrix(35.40,17.70,0,43.28,318.30,438.95)" vector-effect="non-scaling-stroke"/>
<circle r="1" transform="matrix(31.80,15.90,0,38.88,318.30,438.95)" vector-effect="non-scaling-stroke"/>
</g>
<g fill="none" stroke="#ffffff" stroke-width="0.7" stroke-opacity="0.17">
<circle r="1" transform="matrix(103.80,51.90,0,126.90,354.60,422.15)" vector-effect="non-scaling-stroke"/>
<circle r="1" transform="matrix(103.80,51.90,0,126.90,351.06,423.92)" vector-effect="non-scaling-stroke"/>
<circle r="1" transform="matrix(103.80,51.90,0,126.90,347.52,425.69)" vector-effect="non-scaling-stroke"/>
<circle r="1" transform="matrix(103.80,51.90,0,126.90,343.98,427.46)" vector-effect="non-scaling-stroke"/>
<circle r="1" transform="matrix(103.80,51.90,0,126.90,340.44,429.23)" vector-effect="non-scaling-stroke"/>
<circle r="1" transform="matrix(103.80,51.90,0,126.90,336.90,431.00)" vector-effect="non-scaling-stroke"/>
<circle r="1" transform="matrix(103.80,51.90,0,126.90,333.36,432.77)" vector-effect="non-scaling-stroke"/>
<circle r="1" transform="matrix(103.80,51.90,0,126.90,329.82,434.54)" vector-effect="non-scaling-stroke"/>
<circle r="1" transform="matrix(103.80,51.90,0,126.90,326.28,436.31)" vector-effect="non-scaling-stroke"/>
<circle r="1" transform="matrix(103.80,51.90,0,126.90,322.74,438.08)" vector-effect="non-scaling-stroke"/>
<circle r="1" transform="matrix(103.80,51.90,0,126.90,319.20,439.85)" vector-effect="non-scaling-stroke"/>
<circle r="1" transform="matrix(100.20,50.10,0,122.50,319.20,439.85)" vector-effect="non-scaling-stroke"/>
<circle r="1" transform="matrix(96.60,48.30,0,118.10,319.20,439.85)" vector-effect="non-scaling-stroke"/>
<circle r="1" transform="matrix(93.00,46.50,0,113.70,319.20,439.85)" vector-effect="non-scaling-stroke"/>
<circle r="1" transform="matrix(89.40,44.70,0,109.30,319.20,439.85)" vector-effect="non-scaling-stroke"/>
<circle r="1" transform="matrix(85.80,42.90,0,104.89,319.20,439.85)" vector-effect="non-scaling-stroke"/>
<circle r="1" transform="matrix(82.20,41.10,0,100.49,319.20,439.85)" vector-effect="non-scaling-stroke"/>
<circle r="1" transform="matrix(78.60,39.30,0,96.09,319.20,439.85)" vector-effect="non-scaling-stroke"/>
<circle r="1" transform="matrix(75.00,37.50,0,91.69,319.20,439.85)" vector-effect="non-scaling-stroke"/>
<circle r="1" transform="matrix(71.40,35.70,0,87.29,319.20,439.85)" vector-effect="non-scaling-stroke"/>
<circle r="1" transform="matrix(67.80,33.90,0,82.89,319.20,439.85)" vector-effect="non-scaling-stroke"/>
<circle r="1" transform="matrix(64.20,32.10,0,78.49,319.20,439.85)" vector-effect="non-scaling-stroke"/>
<circle r="1" transform="matrix(60.60,30.30,0,74.09,319.20,439.85)" vector-effect="non-scaling-stroke"/>
<circle r="1" transform="matrix(57.00,28.50,0,69.68,319.20,439.85)" vector-effect="non-scaling-stroke"/>
<circle r="1" transform="matrix(53.40,26.70,0,65.28,319.20,439.85)" vector-effect="non-scaling-stroke"/>
<circle r="1" transform="matrix(49.80,24.90,0,60.88,319.20,439.85)" vector-effect="non-scaling-stroke"/>
<circle r="1" transform="matrix(46.20,23.10,0,56.48,319.20,439.85)" vector-effect="non-scaling-stroke"/>
<circle r="1" transform="matrix(42.60,21.30,0,52.08,319.20,439.85)" vector-effect="non-scaling-stroke"/>
<circle r="1" transform="matrix(39.00,19.50,0,47.68,319.20,439.85)" vector-effect="non-scaling-stroke"/>
<circle r="1" transform="matrix(35.40,17.70,0,43.28,319.20,439.85)" vector-effect="non-scaling-stroke"/>
<circle r="1" transform="matrix(31.80,15.90,0,38.88,319.20,439.85)" vector-effect="non-scaling-stroke"/>
</g>
<g fill="none" stroke="#222" stroke-width="0.9" stroke-opacity="0.8">
<polyline points="261.6,419.1 214.5,387.1 261.6,402.1"/>
<polyline points="250.9,387.5 214.5,387.1 250.9,352.2"/>
<polyline points="325.3,511.7 318.3,565.9 311.3,504.7"/>
<polyline points="368.1,554.1 318.3,565.9 339.3,539.7"/>
<polyline points="375.0,458.8 422.1,490.8 375.0,475.8"/>
<polyline points="456.5,455.0 422.1,490.8 456.5,490.3"/>
<polyline points="311.3,366.2 318.3,312.0 325.3,373.2"/>
<polyline points="339.3,288.4 318.3,312.0 368.1,302.8"/>
<polyline points="291.9,393.4 244.9,312.5 276.4,288.0"/>
<polyline points="293.8,392.2 248.2,310.3 276.4,288.0"/>
<polyline points="344.7,419.9 391.7,385.9 431.0,365.5"/>
<polyline points="346.5,423.1 394.8,391.5 431.0,365.5"/>
<polyline points="344.7,484.5 391.7,565.4 431.0,554.5"/>
<polyline points="342.8,485.7 388.4,567.6 431.0,554.5"/>
<polyline points="291.9,458.0 244.9,492.0 262.0,486.0"/>
<polyline points="290.1,454.8 241.8,486.4 262.0,486.0"/>
</g>
<circle cx="276.4" cy="288.0" r="3.3" fill="url(#gbolt)"/>
<circle cx="431.0" cy="365.5" r="3.3" fill="url(#gbolt)"/>
<circle cx="431.0" cy="554.5" r="3.3" fill="url(#gbolt)"/>
<line x1="151.0" y1="275.5" x2="173.6" y2="264.5" stroke="#6e6e6e" stroke-width="2.6" stroke-linecap="round"/>
<line x1="152.0" y1="274.5" x2="172.6" y2="263.9" stroke="#d9d9d9" stroke-width="1.2"/>
<ellipse cx="151.0" cy="275.5" rx="2.5" ry="3.9" transform="rotate(-12 151.0 275.5)" fill="#9b9b9b" stroke="#7c7c7c" stroke-width="0.7"/>
<line x1="171.4" y1="265.6" x2="368.2" y2="168.3" stroke="#151515" stroke-width="1.7" stroke-dasharray="11.8 11.1" stroke-dashoffset="0.0"/>
<line x1="151.4" y1="547.7" x2="174.5" y2="535.5" stroke="#6e6e6e" stroke-width="2.6" stroke-linecap="round"/>
<line x1="152.4" y1="546.7" x2="173.5" y2="534.9" stroke="#d9d9d9" stroke-width="1.2"/>
<ellipse cx="151.4" cy="547.7" rx="2.5" ry="3.9" transform="rotate(-12 151.4 547.7)" fill="#9b9b9b" stroke="#7c7c7c" stroke-width="0.7"/>
<line x1="172.5" y1="536.5" x2="245.0" y2="501.0" stroke="#151515" stroke-width="1.7" stroke-dasharray="11.8 11.1" stroke-dashoffset="0.0"/>
<line x1="372.7" y1="659.0" x2="393.5" y2="648.6" stroke="#6e6e6e" stroke-width="2.6" stroke-linecap="round"/>
<line x1="373.7" y1="658.0" x2="392.5" y2="648.0" stroke="#d9d9d9" stroke-width="1.2"/>
<ellipse cx="372.7" cy="659.0" rx="2.5" ry="3.9" transform="rotate(-12 372.7 659.0)" fill="#9b9b9b" stroke="#7c7c7c" stroke-width="0.7"/>
<line x1="393.0" y1="648.8" x2="589.5" y2="553.4" stroke="#151515" stroke-width="1.7" stroke-dasharray="11.8 11.1" stroke-dashoffset="0.0"/>
<line x1="372.7" y1="386.4" x2="394.5" y2="377.0" stroke="#6e6e6e" stroke-width="2.6" stroke-linecap="round"/>
<line x1="373.7" y1="385.4" x2="393.5" y2="376.4" stroke="#d9d9d9" stroke-width="1.2"/>
<ellipse cx="372.7" cy="386.4" rx="2.5" ry="3.9" transform="rotate(-12 372.7 386.4)" fill="#9b9b9b" stroke="#7c7c7c" stroke-width="0.7"/>
<line x1="394.5" y1="377.0" x2="590.5" y2="280.5" stroke="#151515" stroke-width="1.7" stroke-dasharray="11.8 11.1" stroke-dashoffset="0.0"/>
<text x="27" y="211.9" font-size="17.4">Шуруп М5х50</text>
<polyline points="26.9,218.2 135.5,218.2 155,257" fill="none" stroke="#111" stroke-width="1.6" stroke-linejoin="round"/>
<polygon points="160.6,268.6 149.1,257 154.7,256.8 157.8,252.7" fill="#111"/>
<text x="107.5" y="601.9" font-size="17.4">Вентилятор ROF-A</text>
<polyline points="106.9,604.6 264.5,604.6 288.6,461" fill="none" stroke="#111" stroke-width="1.6" stroke-linejoin="round"/>
<polygon points="290.3,449 294,464 288.8,460.5 284.3,462.5" fill="#0c0c0c"/>
</svg></body></html>
